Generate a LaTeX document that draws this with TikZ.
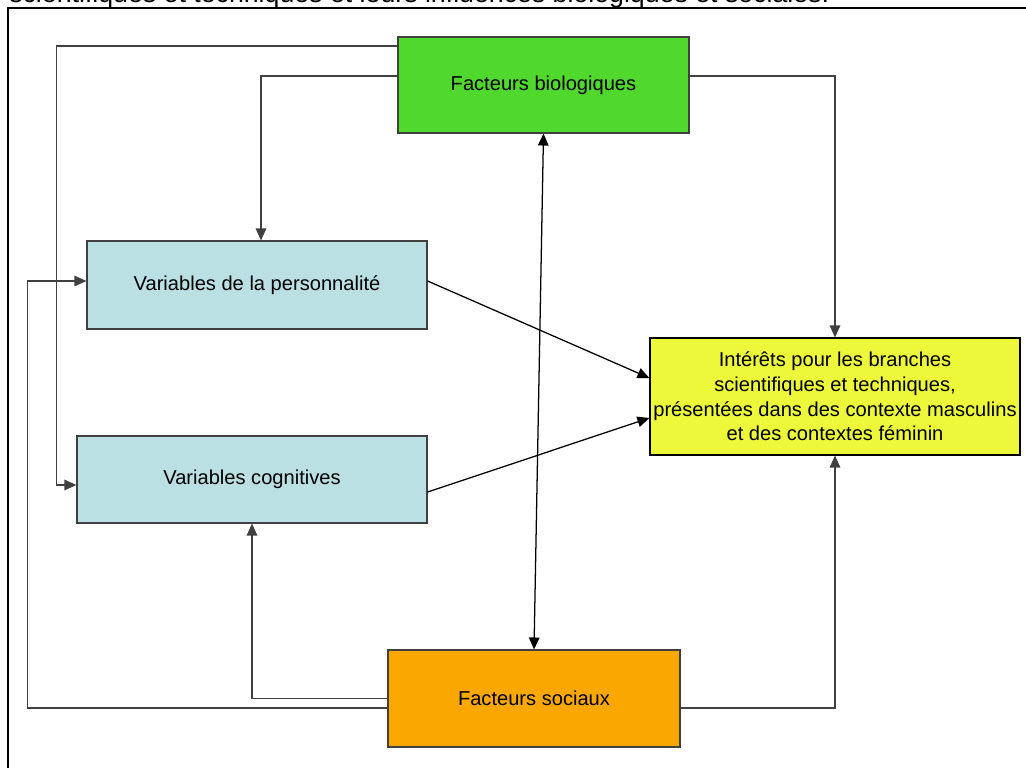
\documentclass[tikz,border=0pt]{standalone}
\usepackage{fontspec}
\setmainfont{Liberation Sans}
\usetikzlibrary{arrows.meta,calc}

\definecolor{bioGreen}{RGB}{80,216,44}
\definecolor{varBlue}{RGB}{187,224,227}
\definecolor{intYellow}{RGB}{238,248,58}
\definecolor{socOrange}{RGB}{250,168,0}

\begin{document}
\begin{tikzpicture}[x=0.025cm,y=-0.025cm,>={Triangle[length=8.5pt,width=7.5pt]}]
\tikzstyle{facteur}=[rectangle,draw=black!75,line width=0.8pt,font=\fontsize{14.3}{17.5}\selectfont,inner sep=0pt]
\tikzstyle{bioBox}=[facteur,fill=bioGreen,minimum width=7.275cm,minimum height=2.4cm]
\tikzstyle{varBox}=[facteur,fill=varBlue,minimum height=2.2cm]
\tikzstyle{intBox}=[facteur,draw=black,fill=intYellow,minimum width=9.25cm,minimum height=2.925cm,align=center]
\tikzstyle{socBox}=[facteur,fill=socOrange,minimum width=7.3cm,minimum height=2.425cm]
\tikzstyle{lien}=[draw=black!75,line width=0.9pt]

\useasboundingbox (0,0) rectangle (1026,768);

%title, cut by the page.
\node[anchor=base west,inner sep=0pt,font=\fontsize{19}{22}\selectfont] (titre) at (9,3) {scientifiques et techniques et leurs influences biologiques et sociales.};
\draw[line width=1pt] (8,768) -- (8,8) -- (1026,8);

\node[bioBox] (fBio) at (543.5,85) {Facteurs biologiques};
\node[varBox,minimum width=8.5cm] (vPers) at (257,285) {Variables de la personnalit\'e};
\node[varBox,minimum width=8.75cm,minimum height=2.175cm] (vCog) at (252,479.5) {Variables cognitives};
\node[intBox] (interets) at (835,396.5) {Int\'er\^ets pour les branches\\scientifiques et techniques,\\pr\'esent\'ees dans des contexte masculins\\et des contextes f\'eminin};
\node[socBox] (fSoc) at (534,698.5) {Facteurs sociaux};

%from the biological factors.
\draw[lien,->] ($(fBio.west)+(0,-39)$) -| ($(vCog.west)+(-20,5.5)$) -- ($(vCog.west)+(0,5.5)$);
\draw[lien,->] ($(fBio.west)+(0,-9)$) -| ($(vPers.north)+(4,0)$);
\draw[lien,->] ($(fBio.east)+(0,-9)$) -| (interets.north);

%from the social factors.
\draw[lien,->] ($(fSoc.east)+(0,9.5)$) -| (interets.south);
\draw[lien,->] ($(fSoc.west)+(0,9.5)$) -| ($(vPers.west)+(-59,-4)$) -- ($(vPers.west)+(0,-4)$);
\draw[lien,->] (fSoc.west) -| (vCog.south);

\draw[lien,<->,draw=black] (fBio.south) -- (fSoc.north);

%to the interests.
\draw[lien,->,draw=black] ($(vPers.east)+(0,-4)$) -- ($(interets.west)+(0,-18.5)$);
\draw[lien,->,draw=black] ($(vCog.east)+(0,12.5)$) -- ($(interets.west)+(0,21.5)$);

\end{tikzpicture}
\end{document}
